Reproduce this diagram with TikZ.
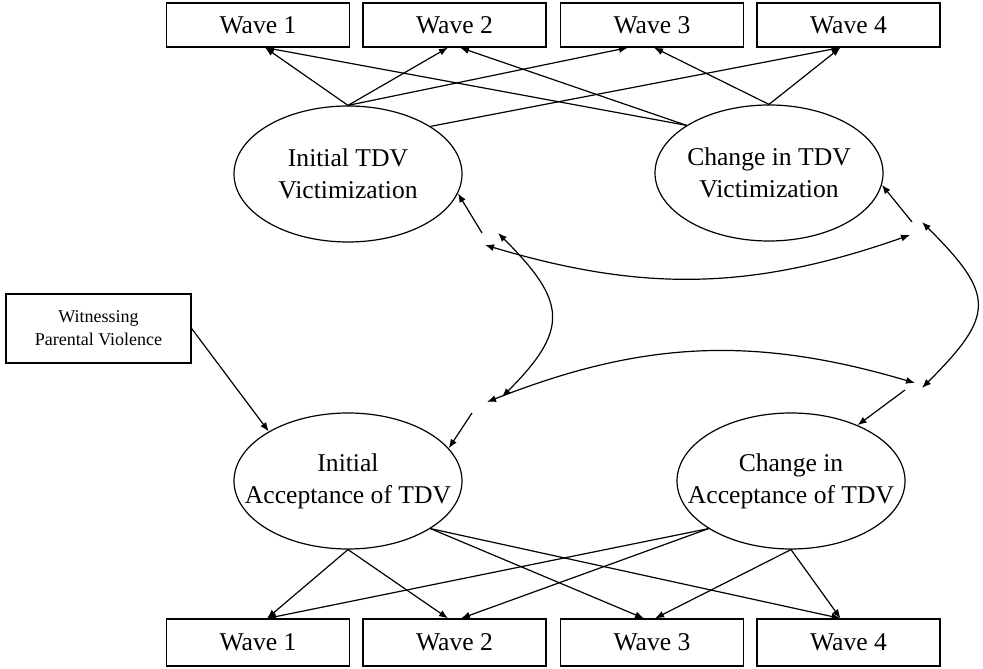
\documentclass[tikz,border=0pt]{standalone}
\usepackage{fontspec}
\setmainfont{Liberation Serif}
\usetikzlibrary{arrows.meta, shapes.geometric}
\tikzset{
>={Latex[length=4.5pt,width=3.5pt]}, % filled arrow heads
latent/.style={draw, ellipse, minimum width=114pt, minimum height=68pt, inner sep=0pt}, % latent factors
lbl/.style={align=center, font=\fontsize{12.8}{16}\selectfont}, % text inside the ellipses
wave/.style={draw, rectangle, minimum width=91.5pt, inner sep=0pt, font=\fontsize{12.8}{15}\selectfont}, % observed waves
}

\begin{document}
\begin{tikzpicture}[x=0.5pt, y=0.5pt, line width=0.6pt]
    \useasboundingbox (0,0) rectangle (983,668);
    % top row
    \node[wave, minimum height=22pt] (tw1) at (258,643) {Wave 1};
    \node[wave, minimum height=22pt] (tw2) at (454.5,643) {Wave 2};
    \node[wave, minimum height=22pt] (tw3) at (652,643) {Wave 3};
    \node[wave, minimum height=22pt] (tw4) at (848.5,643) {Wave 4};
    % bottom row
    \node[wave, minimum height=23.5pt] (bw1) at (258,25.5) {Wave 1};
    \node[wave, minimum height=23.5pt] (bw2) at (454.5,25.5) {Wave 2};
    \node[wave, minimum height=23.5pt] (bw3) at (652,25.5) {Wave 3};
    \node[wave, minimum height=23.5pt] (bw4) at (848.5,25.5) {Wave 4};
    % latent factors
    \node[latent] (iv) at (348,494) {};
    \node[lbl] (ivt) at (iv) {Initial TDV\\Victimization};
    \node[latent] (cv) at (769,495) {};
    \node[lbl] (cvt) at (cv) {Change in TDV\\Victimization};
    \node[latent] (ia) at (348,187) {};
    \node[lbl] (iat) at (ia) {Initial\\Acceptance of TDV};
    \node[latent] (ca) at (791,187) {};
    \node[lbl] (cat) at (ca) {Change in\\Acceptance of TDV};
    \node[draw, minimum width=92.5pt, minimum height=34.5pt, align=center, font=\fontsize{9}{11.5}\selectfont] (wpv) at (98.5,339.5) {Witnessing\\Parental Violence};
    % disturbance terms (not drawn)
    \coordinate (d1a) at (482,435);
    \coordinate (d1b) at (485,423);
    \coordinate (d1c) at (498,435);
    \coordinate (d2a) at (912,446);
    \coordinate (d2b) at (910,433);
    \coordinate (d2c) at (922,446);
    \coordinate (d3a) at (472,255);
    \coordinate (d3b) at (487,266);
    \coordinate (d3c) at (502,271);
    \coordinate (d4a) at (905,278);
    \coordinate (d4b) at (915,285);
    \coordinate (d4c) at (922,280);
    % loadings, victimization
    \draw[->] (iv.north) -- ([xshift=3.5pt]tw1.south);
    \draw[->] (iv.north) -- ([xshift=-3.25pt]tw2.south);
    \draw[->] (iv.north) -- ([xshift=-12pt]tw3.south);
    \draw[->] (iv.30) -- ([xshift=-4pt]tw4.south);
    \draw[->] (cv.150) -- ([xshift=3.5pt]tw1.south);
    \draw[->] (cv.150) -- ([xshift=2.75pt]tw2.south);
    \draw[->] (cv.north) -- ([xshift=1pt]tw3.south);
    \draw[->] (cv.north) -- ([xshift=-4pt]tw4.south);
    % loadings, acceptance
    \draw[->] (ia.south) -- ([xshift=4.5pt]bw1.north);
    \draw[->] (ia.south) -- ([xshift=-3.25pt]bw2.north);
    \draw[->] (ia.-30) -- ([xshift=-4pt]bw3.north);
    \draw[->] (ia.-30) -- ([xshift=-4pt]bw4.north);
    \draw[->] (ca.-150) -- ([xshift=4.5pt]bw1.north);
    \draw[->] (ca.-150) -- ([xshift=3.25pt]bw2.north);
    \draw[->] (ca.south) -- ([xshift=1.5pt]bw3.north);
    \draw[->] (ca.south) -- ([xshift=-4pt]bw4.north);
    % predictor
    \draw[->] (wpv.east) -- (ia.148);
    % residuals
    \draw[->] (d1a) -- (iv.-10);
    \draw[->] (d2a) -- (cv.-6);
    \draw[->] (d3a) -- (ia.18);
    \draw[->] (d4a) -- (ca.40);
    % covariances
    \draw[<->] (d1b) to[bend right=18] (d2b);
    \draw[<->] (d3b) to[bend left=19] (d4b);
    \draw[<->] (d1c) to[out=-45, in=45, looseness=1.5] (d3c);
    \draw[<->] (d2c) to[out=-45, in=45, looseness=1.6] (d4c);
\end{tikzpicture}
\end{document}
